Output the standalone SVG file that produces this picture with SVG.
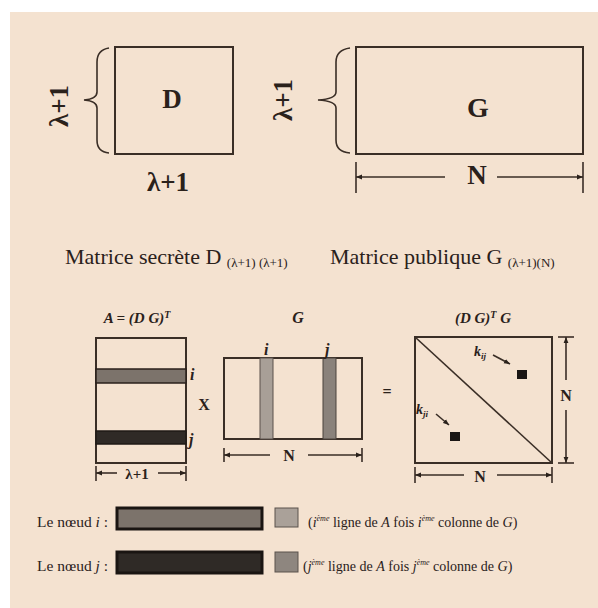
<svg xmlns="http://www.w3.org/2000/svg" width="598" height="608" viewBox="0 0 598 608" font-family="'Liberation Serif', 'Times New Roman', 'DejaVu Serif', serif">
<style>
.ln{stroke:#3a2e26;fill:none;stroke-width:1.6}
.bx{stroke:#3a2e26;fill:none;stroke-width:2}
text{font-family:'Liberation Serif','Times New Roman','DejaVu Serif',serif;fill:#2a211b}
.b{font-weight:bold}
.it{font-style:italic}
.c{text-anchor:middle}
</style>
<defs>
<marker id="ah" viewBox="0 0 10 10" refX="10" refY="5" markerWidth="6" markerHeight="6" orient="auto-start-reverse" markerUnits="userSpaceOnUse">
<path d="M0,1 L10,5 L0,9 Z" fill="#2a211b"/>
</marker>
</defs>
<rect width="598" height="608" fill="#ffffff"/>
<rect x="10" y="12" width="588" height="596" fill="#f4e2d0"/>

<g id="matrixD">
<rect class="bx" x="115" y="47" width="118" height="107"/>
<path class="ln" d="M109,48 Q97,50 97,62 L97,92 Q97,99 84,100 Q97,101 97,108 L97,140 Q97,152 109,153"/>
<text class="b c" x="172" y="108" font-size="27">D</text>
<text class="b c" transform="translate(68,106) rotate(-90)" font-size="27">λ+1</text>
<text class="b c" x="168" y="191" font-size="27">λ+1</text>
</g>

<g id="matrixG">
<rect class="bx" x="356" y="47" width="227" height="107"/>
<path class="ln" d="M350,48 Q336,50 336,62 L336,92 Q336,99 318,100 Q336,101 336,108 L336,140 Q336,152 350,153"/>
<text class="b c" x="478" y="117" font-size="28">G</text>
<text class="b c" transform="translate(292,100) rotate(-90)" font-size="27">λ+1</text>
<line class="ln" x1="356" y1="162" x2="356" y2="193"/>
<line class="ln" x1="583" y1="162" x2="583" y2="193"/>
<text class="b c" x="477" y="184" font-size="27">N</text>
</g>

<g id="captions">
<text x="65" y="264" font-size="22">Matrice secrète D <tspan font-size="13" dy="3">(λ+1) (λ+1)</tspan></text>
<text x="330" y="264" font-size="22">Matrice publique G <tspan font-size="13" dy="3">(λ+1)(N)</tspan></text>
</g>

<g id="matrixA">
<text class="b it c" x="137" y="323" font-size="15">A = (D G)<tspan font-size="10" dy="-5">T</tspan></text>
<rect class="bx" x="96" y="338" width="90" height="125"/>
<rect x="96" y="369" width="90" height="14" fill="#7c736b" stroke="#2a211b" stroke-width="1.5"/>
<rect x="96" y="431" width="90" height="13" fill="#2f2a26" stroke="#1f1a16" stroke-width="1.5"/>
<text class="b it" x="190" y="380" font-size="16">i</text>
<text class="b it" x="189" y="445" font-size="16">j</text>
<line class="ln" x1="96" y1="466" x2="96" y2="481"/>
<line class="ln" x1="186" y1="466" x2="186" y2="481"/>
<text class="b c" x="137" y="479" font-size="15">λ+1</text>
</g>

<g id="times">
<text class="b c" x="204" y="410" font-size="16">X</text>
</g>

<g id="matrixG2">
<text class="b it c" x="298" y="323" font-size="16">G</text>
<rect class="bx" x="224" y="358" width="138" height="81"/>
<rect x="260" y="358" width="13" height="81" fill="#a89f97" stroke="#5a514a" stroke-width="1"/>
<rect x="323" y="358" width="13" height="81" fill="#8a827b" stroke="#4a423c" stroke-width="1"/>
<text class="b it" x="264" y="355" font-size="16">i</text>
<text class="b it" x="325" y="355" font-size="16">j</text>
<line class="ln" x1="224" y1="448" x2="224" y2="462"/>
<line class="ln" x1="362" y1="448" x2="362" y2="462"/>
<text class="b c" x="289" y="461" font-size="16">N</text>
</g>

<g id="equals">
<text class="b c" x="387" y="397" font-size="16">=</text>
</g>

<g id="result">
<text class="b it c" x="483" y="323" font-size="15">(D G)<tspan font-size="10" dy="-5">T</tspan><tspan dy="5"> G</tspan></text>
<rect class="bx" x="415" y="337" width="137" height="126"/>
<line class="ln" x1="415" y1="337" x2="552" y2="463" stroke-width="1.2"/>
<text class="b it" x="474" y="356" font-size="14">k<tspan font-size="9" dy="3">ij</tspan></text>
<rect x="517" y="370" width="10" height="9" fill="#1a1614"/>
<text class="b it" x="416" y="414" font-size="14">k<tspan font-size="9" dy="3">ji</tspan></text>
<rect x="450" y="432" width="10" height="9" fill="#1a1614"/>
<line class="ln" x1="558" y1="337" x2="574" y2="337"/>
<line class="ln" x1="558" y1="463" x2="574" y2="463"/>
<text class="b c" x="566" y="401" font-size="16">N</text>
<line class="ln" x1="415" y1="467" x2="415" y2="483"/>
<line class="ln" x1="552" y1="467" x2="552" y2="483"/>
<text class="b c" x="480" y="482" font-size="16">N</text>
</g>

<g id="legendI">
<text x="37" y="527" font-size="15.5">Le nœud <tspan class="it">i</tspan> :</text>
<rect x="117" y="508" width="145" height="21" fill="#7c736b" stroke="#1a1512" stroke-width="3"/>
<rect x="275" y="508" width="23" height="19" fill="#aaa199" stroke="#5a524c" stroke-width="1"/>
<text x="308" y="527" font-size="14">(<tspan class="it">i</tspan><tspan font-size="8" dy="-6" class="it">ème</tspan><tspan dy="6"> ligne de </tspan><tspan class="it">A</tspan> fois <tspan class="it">i</tspan><tspan font-size="8" dy="-6" class="it">ème</tspan><tspan dy="6"> colonne de </tspan><tspan class="it">G</tspan>)</text>
</g>

<g id="legendJ">
<text x="37" y="571" font-size="15.5">Le nœud <tspan class="it">j</tspan> :</text>
<rect x="117" y="552" width="145" height="21" fill="#2f2a26" stroke="#1a1512" stroke-width="3"/>
<rect x="275" y="552" width="23" height="20" fill="#8e867f" stroke="#5a524c" stroke-width="1"/>
<text x="303" y="571" font-size="14">(<tspan class="it">j</tspan><tspan font-size="8" dy="-6" class="it">ème</tspan><tspan dy="6"> ligne de </tspan><tspan class="it">A</tspan> fois <tspan class="it">j</tspan><tspan font-size="8" dy="-6" class="it">ème</tspan><tspan dy="6"> colonne de </tspan><tspan class="it">G</tspan>)</text>
</g>

<g id="connectors">
<line class="ln" x1="356" y1="177" x2="445" y2="177" marker-start="url(#ah)"/>
<line class="ln" x1="497" y1="177" x2="583" y2="177" marker-end="url(#ah)"/>
<line class="ln" x1="96" y1="473" x2="117" y2="473" marker-start="url(#ah)"/>
<line class="ln" x1="158" y1="473" x2="186" y2="473" marker-end="url(#ah)"/>
<line class="ln" x1="224" y1="455" x2="270" y2="455" marker-start="url(#ah)"/>
<line class="ln" x1="308" y1="455" x2="362" y2="455" marker-end="url(#ah)"/>
<line class="ln" x1="415" y1="475" x2="464" y2="475" marker-start="url(#ah)"/>
<line class="ln" x1="497" y1="475" x2="552" y2="475" marker-end="url(#ah)"/>
<line class="ln" x1="566" y1="337" x2="566" y2="380" marker-start="url(#ah)"/>
<line class="ln" x1="566" y1="410" x2="566" y2="463" marker-end="url(#ah)"/>
<line class="ln" x1="493" y1="355" x2="510" y2="364" marker-end="url(#ah)" stroke-width="1.3"/>
<line class="ln" x1="436" y1="414" x2="449" y2="425" marker-end="url(#ah)" stroke-width="1.3"/>
</g>
</svg>
